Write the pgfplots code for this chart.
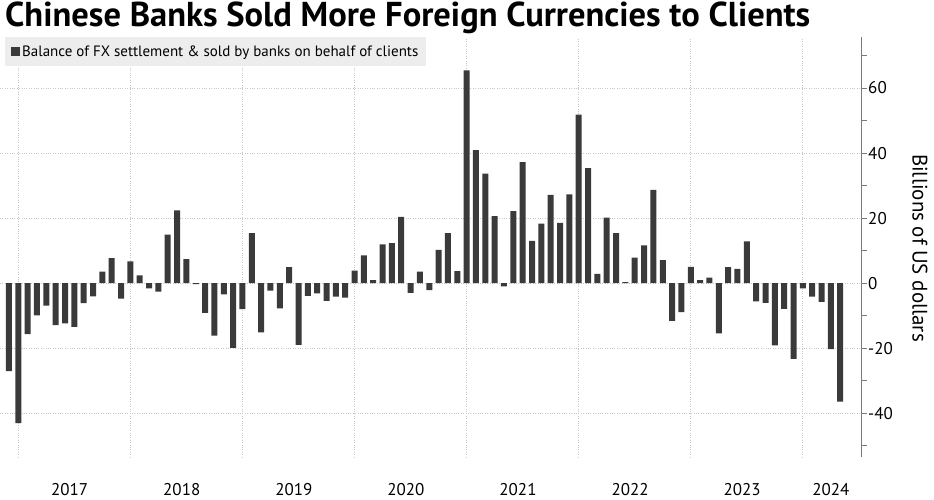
\documentclass[border=0pt]{standalone}
\usepackage{pgfplots}
\pgfplotsset{compat=1.18}
\usepackage{fontspec}
\setmainfont{PT Sans}
\definecolor{barc}{HTML}{3A3A3A}
\definecolor{gridc}{HTML}{C8C8C8}
\definecolor{axc}{HTML}{7A7A7A}
\definecolor{legc}{HTML}{EDEDED}
\begin{document}
\begin{tikzpicture}[x=1pt,y=1pt]
\begin{axis}[
  at={(0pt,43pt)}, anchor=south west,
  scale only axis, width=861.7pt, height=420pt,
  xmin=-0.96, xmax=91.3, ymin=-53.5, ymax=75.7,
  axis x line*=bottom, x axis line style={draw=none},
  axis y line*=right, y axis line style={draw=axc, line width=1.1pt},
  xtick={6.5,18.5,30.5,42.5,54.5,66.5,78.5,88},
  xticklabels={2017,2018,2019,2020,2021,2022,2023,2024},
  x tick label style={font=\fontsize{17}{20}\selectfont, text=black, yshift=-18pt},
  major x tick style={draw=none},
  extra x ticks={1,13,25,37,49,61,73,85},
  extra x tick labels={},
  extra x tick style={grid=major, major tick length=0pt},
  ytick={-40,-20,0,20,40,60},
  minor ytick={-50,-30,-10,10,30,50,70},
  yticklabel pos=right,
  tick align=outside,
  major tick length=5pt, minor tick length=5pt,
  y tick style={draw=axc, line width=0.9pt},
  y tick label style={font=\fontsize{17}{20}\selectfont, text=black, xshift=-2pt},
  /pgf/number format/assume math mode=true,
  ymajorgrids,
  grid style={gridc, dotted, line width=0.8pt},
  legend style={at={(rel axis cs:0.0058,1)}, anchor=north west, fill=legc, draw=none,
    font=\fontsize{15}{17}\selectfont, inner xsep=6pt, inner ysep=6.5pt,
    cells={anchor=west}},
  legend image code/.code={\fill[barc] (0pt,-4.5pt) rectangle (9pt,4.5pt);},
  clip=false,
]
\addplot[ybar, bar width=6pt, fill=barc, draw=none] coordinates {
(0,-27.1) (1,-43.1) (2,-15.7) (3,-9.9) (4,-6.9) (5,-12.9) (6,-12.4) (7,-13.5) (8,-6.2) (9,-4.1)
(10,3.5) (11,7.7) (12,-4.8) (13,6.7) (14,2.4) (15,-1.6) (16,-2.6) (17,14.9) (18,22.4) (19,7.4)
(20,-0.3) (21,-9.2) (22,-16.2) (23,-3.5) (24,-19.9) (25,-8.0) (26,15.4) (27,-15.2) (28,-2.3) (29,-7.8)
(30,4.9) (31,-19.0) (32,-3.9) (33,-3.2) (34,-5.5) (35,-4.2) (36,-4.5) (37,3.8) (38,8.5) (39,0.9)
(40,11.9) (41,12.3) (42,20.4) (43,-3.0) (44,3.5) (45,-2.2) (46,10.2) (47,15.4) (48,3.7) (49,65.4)
(50,40.9) (51,33.7) (52,20.6) (53,-1.0) (54,22.1) (55,37.2) (56,13.0) (57,18.3) (58,27.1) (59,18.5)
(60,27.3) (61,51.8) (62,35.4) (63,2.8) (64,20.1) (65,15.4) (66,0.3) (67,7.8) (68,11.6) (69,28.7)
(70,7.1) (71,-11.6) (72,-8.9) (73,5.0) (74,0.9) (75,1.7) (76,-15.5) (77,4.9) (78,4.4) (79,12.8)
(80,-5.6) (81,-6.1) (82,-19.2) (83,-7.9) (84,-23.3) (85,-1.6) (86,-4.2) (87,-5.8) (88,-20.3) (89,-36.5)
};
\addlegendentry{Balance of FX settlement \& sold by banks on behalf of clients}
\end{axis}
\node[anchor=base west, inner sep=0pt] at (5pt,473pt)
  {\resizebox{805pt}{!}{\bfseries Chinese Banks Sold More Foreign Currencies to Clients}};
\node[rotate=-90, inner sep=0pt, font=\fontsize{21}{23}\selectfont] at (920pt,252pt) {Billions of US dollars};
\pgfresetboundingbox
\path[use as bounding box] (0pt,0pt) rectangle (934pt,500pt);
\end{tikzpicture}
\end{document}
